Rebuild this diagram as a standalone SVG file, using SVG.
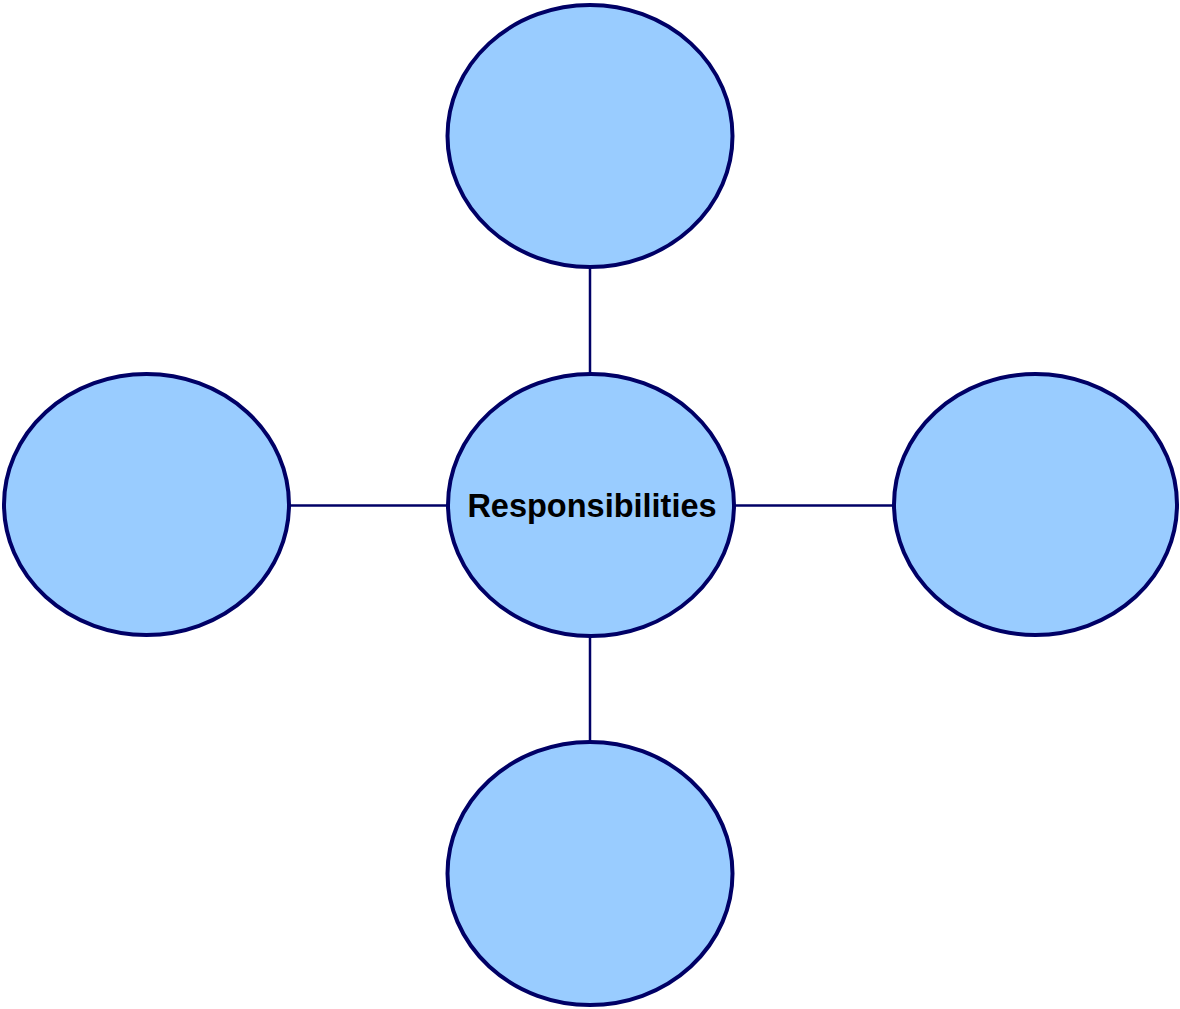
<svg xmlns="http://www.w3.org/2000/svg" width="1180" height="1009" viewBox="0 0 1180 1009">
  <style>
    .node { fill: #99ccff; stroke: #000066; stroke-width: 4; }
    .link { stroke: #000066; stroke-width: 2.5; fill: none; }
    .label { font-family: "Liberation Sans", Arial, sans-serif; font-weight: bold; font-size: 32.5px; fill: #000000; text-anchor: middle; }
  </style>
  <rect width="1180" height="1009" fill="#ffffff"/>
  <g id="connectors">
    <line class="link" x1="590" y1="267" x2="590" y2="374"/>
    <line class="link" x1="590" y1="636" x2="590" y2="742"/>
    <line class="link" x1="289" y1="505.5" x2="448" y2="505.5"/>
    <line class="link" x1="734" y1="505.5" x2="894" y2="505.5"/>
  </g>
  <g id="node-top">
    <ellipse class="node" cx="590" cy="136" rx="142.5" ry="131"/>
  </g>
  <g id="node-left">
    <ellipse class="node" cx="146.5" cy="504.5" rx="142.5" ry="130.5"/>
  </g>
  <g id="node-center">
    <ellipse class="node" cx="591" cy="505" rx="143" ry="131"/>
    <text class="label" x="592" y="517">Responsibilities</text>
  </g>
  <g id="node-right">
    <ellipse class="node" cx="1035.5" cy="504.5" rx="141.5" ry="130.5"/>
  </g>
  <g id="node-bottom">
    <ellipse class="node" cx="590" cy="873.5" rx="142.5" ry="131.5"/>
  </g>
</svg>
